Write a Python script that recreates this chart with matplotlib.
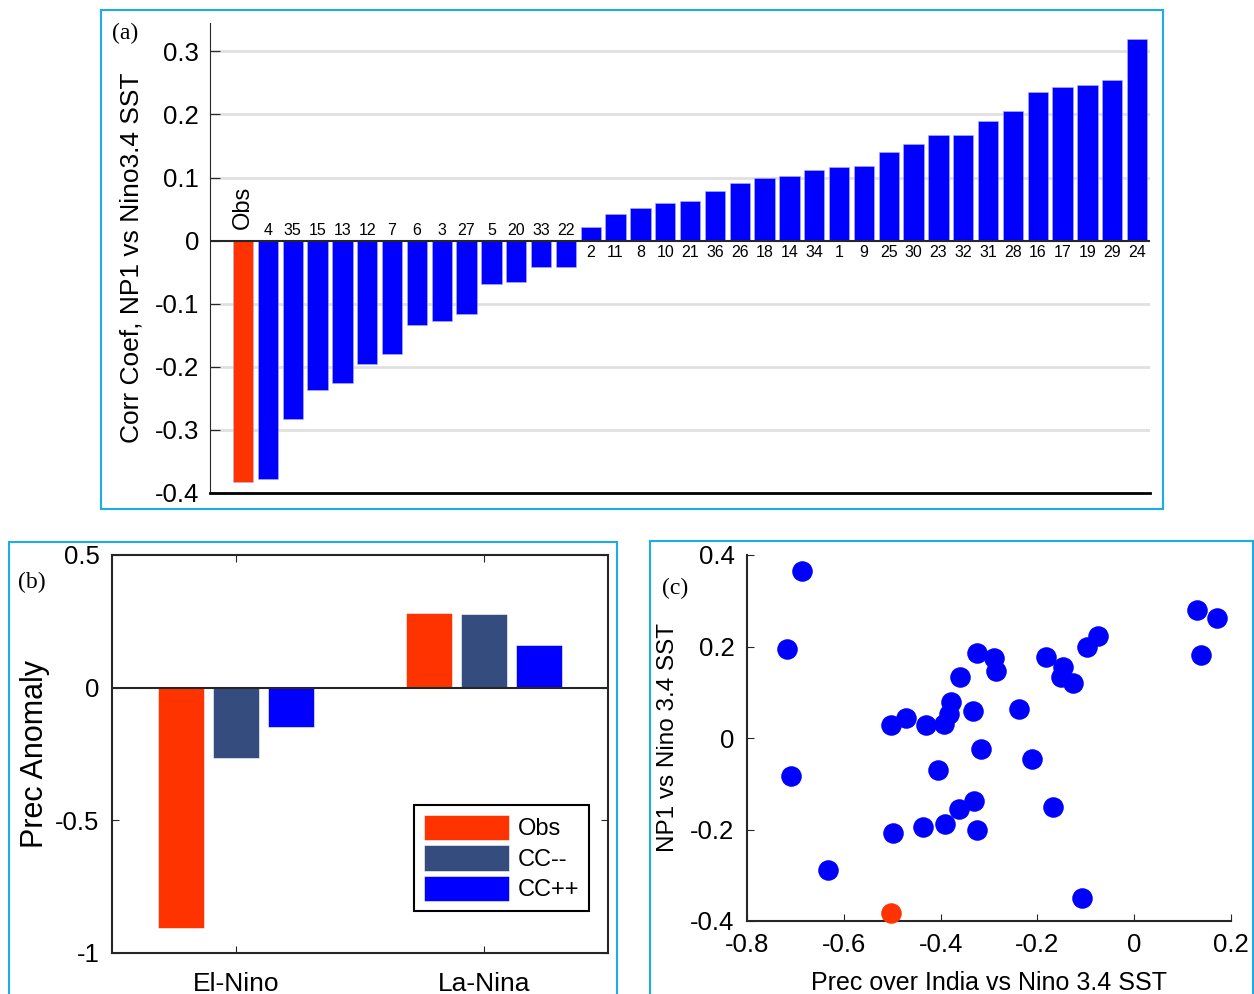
import matplotlib.pyplot as plt
from matplotlib.patches import Rectangle
import numpy as np

plt.rcParams['font.family'] = ['Liberation Sans', 'DejaVu Sans']

# (a) correlation per model, sorted
a_labels = ['Obs', '4', '35', '15', '13', '12', '7', '6', '3', '27', '5', '20', '33', '22',
            '2', '11', '8', '10', '21', '36', '26', '18', '14', '34', '1', '9', '25', '30',
            '23', '32', '31', '28', '16', '17', '19', '29', '24']
a_values = [-0.383, -0.378, -0.283, -0.236, -0.226, -0.196, -0.180, -0.134, -0.128, -0.116,
            -0.068, -0.066, -0.042, -0.041,
            0.022, 0.043, 0.052, 0.060, 0.063, 0.079, 0.091, 0.100, 0.103, 0.112, 0.116,
            0.118, 0.140, 0.153, 0.167, 0.167, 0.189, 0.205, 0.236, 0.243, 0.246, 0.254, 0.319]

# (b) precipitation anomaly composites
b_groups = ['El-Nino', 'La-Nina']
b_series = ['Obs', 'CC--', 'CC++']
b_values = {'Obs': [-0.907, 0.283], 'CC--': [-0.264, 0.278], 'CC++': [-0.149, 0.159]}

# (c) scatter: first point is Obs
c_x = [-0.503, -0.686, -0.718, -0.709, -0.632, -0.503, -0.472, -0.430, -0.499, -0.437,
       -0.390, -0.394, -0.382, -0.378, -0.405, -0.363, -0.330, -0.324, -0.359, -0.334,
       -0.324, -0.290, -0.285, -0.316, -0.238, -0.211, -0.183, -0.168, -0.148, -0.152,
       -0.127, -0.097, -0.074, -0.108, 0.129, 0.172, 0.138]
c_y = [-0.382, 0.364, 0.194, -0.082, -0.288, 0.028, 0.043, 0.028, -0.208, -0.194,
       -0.187, 0.030, 0.052, 0.078, -0.070, -0.155, -0.138, -0.200, 0.133, 0.060,
       0.186, 0.174, 0.146, -0.025, 0.064, -0.045, 0.178, -0.151, 0.155, 0.133,
       0.121, 0.198, 0.222, -0.349, 0.280, 0.262, 0.182]

RED = '#ff3300'
BLUE = '#0000ff'
SLATE = '#344d7e'
FRAME = '#1aaee6'

W, H = 1254, 994
fig = plt.figure(figsize=(W / 100, H / 100), dpi=100)


def px_axes(l, t, r, b):
    return fig.add_axes([l / W, 1 - b / H, (r - l) / W, (b - t) / H])


# cyan frames around each panel
for (l, t, r, b) in [(101, 10, 1163, 509), (9, 542, 617, 1000), (650, 541, 1253, 1000)]:
    fig.patches.append(Rectangle((l / W, 1 - b / H), (r - l) / W, (b - t) / H,
                                 transform=fig.transFigure, fill=False,
                                 edgecolor=FRAME, lw=1.5))

# ---- panel (a)
ax = px_axes(210, 23, 1150, 493)
x = np.arange(len(a_values))
colors = [RED] + [BLUE] * (len(a_values) - 1)
ax.bar(x, a_values, width=0.82, color=colors, edgecolor='#b0b0ff', linewidth=0.4, zorder=2)
ax.set_xlim(-1.33, 36.52)
ax.set_ylim(-0.4, 0.345)
ax.set_yticks([-0.4, -0.3, -0.2, -0.1, 0, 0.1, 0.2, 0.3])
ax.set_yticklabels(['-0.4', '-0.3', '-0.2', '-0.1', '0', '0.1', '0.2', '0.3'])
for yv in [-0.3, -0.2, -0.1, 0.1, 0.2, 0.3]:
    ax.axhline(yv, color='#e0e0e0', lw=2, zorder=0)
ax.axhline(0, color='#262626', lw=1.5, zorder=3)
ax.set_xticks([])
ax.tick_params(axis='y', direction='in', length=7, labelsize=18.5, pad=8, color='#262626')
for s in ['top', 'right']:
    ax.spines[s].set_visible(False)
ax.spines['left'].set_color('#262626')
ax.spines['bottom'].set_linewidth(2)
ax.set_ylabel('Corr Coef, NP1 vs Nino3.4 SST', fontsize=19, labelpad=8)
for xi, (lab, v) in enumerate(zip(a_labels, a_values)):
    if lab == 'Obs':
        ax.text(xi, 0.018, lab, rotation=90, ha='center', va='bottom', fontsize=17)
    elif v < 0:
        ax.text(xi, 0.004, lab, ha='center', va='bottom', fontsize=11.5)
    else:
        ax.text(xi, -0.007, lab, ha='center', va='top', fontsize=11.5)
fig.text(112 / W, 1 - 33 / H, '(a)', family='Liberation Serif', fontsize=17, va='center')

# ---- panel (b)
bx = px_axes(112, 555, 608, 953)
xg = np.arange(1, len(b_groups) + 1)
offsets = [-0.222, 0, 0.222]
bcolors = {'Obs': RED, 'CC--': SLATE, 'CC++': BLUE}
for off, name in zip(offsets, b_series):
    bx.bar(xg + off, b_values[name], width=0.185, color=bcolors[name],
           edgecolor='white', linewidth=0.4, label=name, zorder=2)
bx.axhline(0, color='#262626', lw=1.5, zorder=3)
bx.set_xlim(0.5, 2.5)
bx.set_ylim(-1, 0.5)
bx.set_xticks(xg)
bx.set_xticklabels(b_groups)
bx.set_yticks([-1, -0.5, 0, 0.5])
bx.set_yticklabels(['-1', '-0.5', '0', '0.5'])
bx.tick_params(direction='in', length=5, labelsize=18.5, top=True, right=True,
               color='#262626', pad=9)
bx.tick_params(axis='x', labelsize=19, pad=14)
for s in bx.spines.values():
    s.set_linewidth(1.5)
    s.set_color('#262626')
bx.set_ylabel('Prec Anomaly', fontsize=22, labelpad=4)
leg = bx.legend(loc='lower right', bbox_to_anchor=(0.962, 0.106), borderaxespad=0,
                fontsize=17, handlelength=3.6, handleheight=1.3, handletextpad=0.4,
                labelspacing=0.2, borderpad=0.4, fancybox=False, framealpha=1)
leg.get_frame().set_edgecolor('black')
leg.get_frame().set_linewidth(1.5)
fig.text(18 / W, 1 - 582 / H, '(b)', family='Liberation Serif', fontsize=17, va='center')

# ---- panel (c)
cx = px_axes(747, 555, 1231, 921)
cx.scatter(c_x[1:], c_y[1:], s=190, color=BLUE, zorder=3)
cx.scatter(c_x[:1], c_y[:1], s=190, color=RED, zorder=3, clip_on=False)
cx.set_xlim(-0.8, 0.2)
cx.set_ylim(-0.4, 0.4)
cx.set_xticks([-0.8, -0.6, -0.4, -0.2, 0, 0.2])
cx.set_xticklabels(['-0.8', '-0.6', '-0.4', '-0.2', '0', '0.2'])
cx.set_yticks([-0.4, -0.2, 0, 0.2, 0.4])
cx.set_yticklabels(['-0.4', '-0.2', '0', '0.2', '0.4'])
cx.tick_params(direction='in', length=5, labelsize=18.5, color='#262626', pad=9)
for s in ['top', 'right']:
    cx.spines[s].set_visible(False)
for s in ['left', 'bottom']:
    cx.spines[s].set_linewidth(1.5)
    cx.spines[s].set_color('#262626')
cx.set_xlabel('Prec over India vs Nino 3.4 SST', fontsize=18, labelpad=10)
cx.set_ylabel('NP1 vs Nino 3.4 SST', fontsize=17.5, labelpad=8)
fig.text(662 / W, 1 - 588 / H, '(c)', family='Liberation Serif', fontsize=17, va='center')

fig.savefig('out.png', dpi=100)
